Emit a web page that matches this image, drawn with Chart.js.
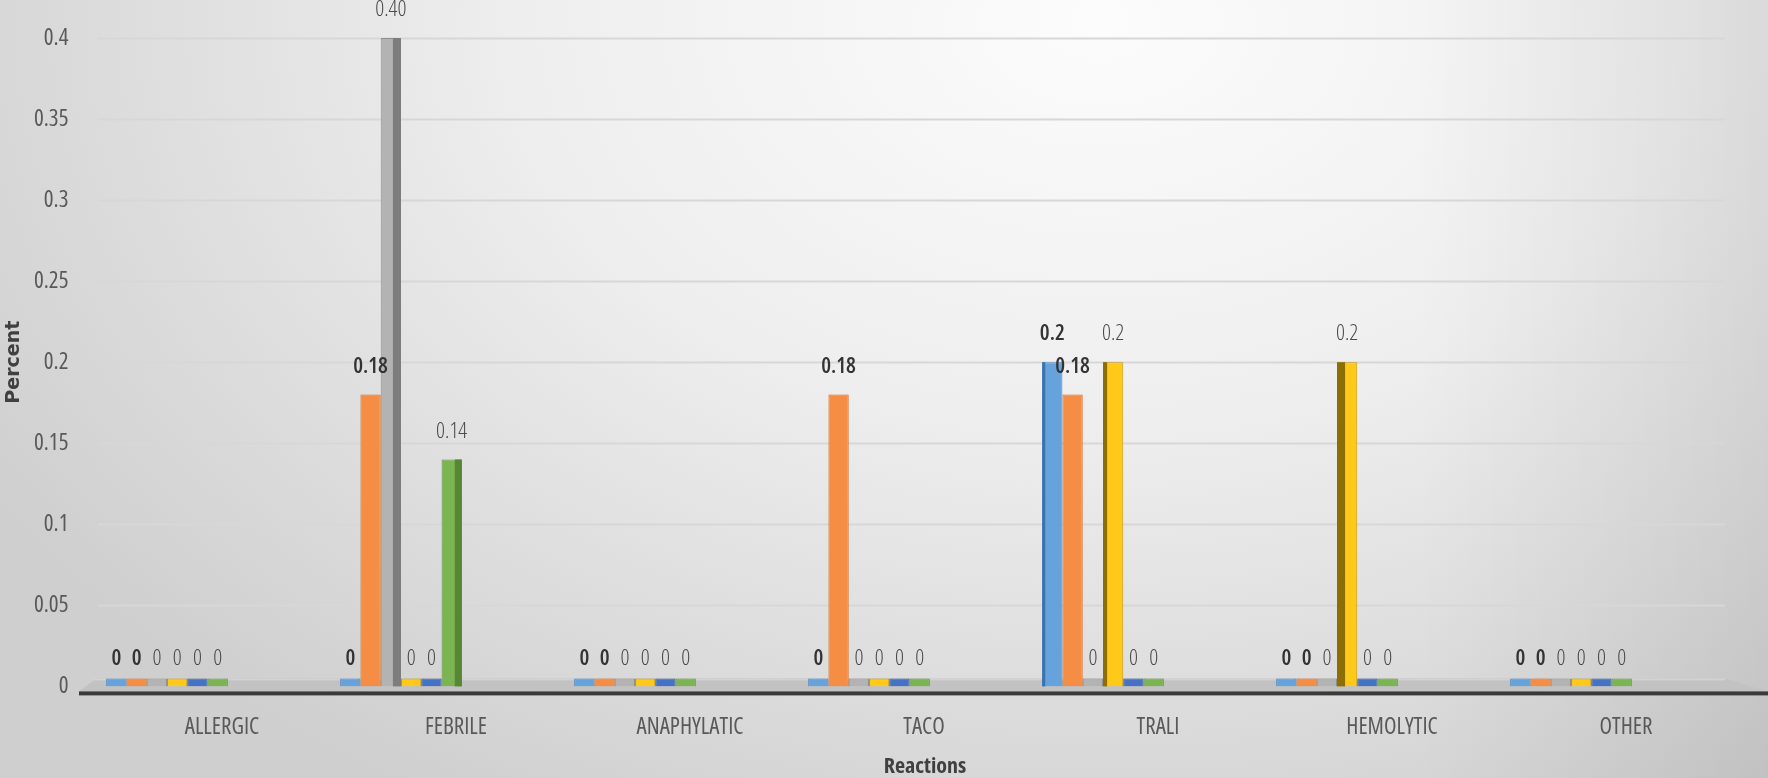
<!DOCTYPE html>
<html>
<head>
<meta charset="utf-8">
<title>Reactions</title>
<script src="https://cdn.jsdelivr.net/npm/chart.js@4"></script>
<style>
  html, body { margin: 0; padding: 0; }
  body {
    width: 1768px;
    height: 778px;
    overflow: hidden;
    background:
      linear-gradient(to right, rgba(0,0,0,0) 80%, rgba(0,0,0,0.07) 100%),
      radial-gradient(ellipse 1300px 900px at 1100px 20px, #fcfcfc 0%, #eeeeee 45%, #dadada 80%, #cfcfcf 100%);
  }
  #wrap { position: relative; width: 1768px; height: 778px; }
</style>
</head>
<body>
<div id="wrap"><canvas id="reactionsChart"></canvas></div>
<script>
// --- data ---
const categories = ['ALLERGIC', 'FEBRILE', 'ANAPHYLATIC', 'TACO', 'TRALI', 'HEMOLYTIC', 'OTHER'];
const series1 = [0, 0,    0, 0,    0.2,  0,   0];
const series2 = [0, 0.18, 0, 0.18, 0.18, 0,   0];
const series3 = [0, 0.40, 0, 0,    0,    0,   0];
const series4 = [0, 0,    0, 0,    0.2,  0.2, 0];
const series5 = [0, 0,    0, 0,    0,    0,   0];
const series6 = [0, 0.14, 0, 0,    0,    0,   0];
const yTicks = [0, 0.05, 0.1, 0.15, 0.2, 0.25, 0.3, 0.35, 0.4];

// --- styles ---
const SANS = "'Open Sans', sans-serif";
const fronts  = ['#66a3dd', '#f58d45', '#b3b3b3', '#ffc91a', '#4472c4', '#7ab551'];
const sides   = ['#3b73ad', '#c25e1c', '#7d7d7d', '#8c6e05', '#2f5597', '#568636'];
const borders = ['#4a86c5', '#d8671e', '#8f8f8f', '#c79600', '#2f5597', '#5f9440'];
const boldLabels = [true, true, false, false, false, false];
const decimals = [null, null, 2, null, null, null];

const seriesData = [series1, series2, series3, series4, series5, series6];

// floor strip and light grid lines behind the columns
const backdrop = {
  id: 'backdrop',
  beforeDatasetsDraw(chart) {
    const { ctx, chartArea: ca } = chart;
    const yScale = chart.scales.y;
    const y0 = yScale.getPixelForValue(0);
    ctx.save();
    ctx.strokeStyle = '#d7d7d7';
    ctx.lineWidth = 2;
    yTicks.forEach(v => {
      if (v === 0) return;
      const py = Math.round(yScale.getPixelForValue(v)) + 0.5;
      ctx.beginPath();
      ctx.moveTo(ca.left + 48, py);
      ctx.lineTo(ca.right + 37, py);
      ctx.stroke();
    });
    // floor
    ctx.fillStyle = '#c2c2c2';
    ctx.beginPath();
    ctx.moveTo(ca.left + 46, y0 - 8);
    ctx.lineTo(ca.right + 37, y0 - 8);
    ctx.lineTo(chart.width, y0 + 5);
    ctx.lineTo(ca.left + 29, y0 + 5);
    ctx.closePath();
    ctx.fill();
    ctx.fillStyle = '#d3d3d3';
    ctx.fillRect(ca.left + 44, y0 - 8, ca.right - ca.left - 7, 2);
    ctx.fillStyle = '#3a3a3a';
    ctx.fillRect(ca.left + 29, y0 + 5, chart.width - ca.left - 29, 4);
    ctx.restore();
  }
};

// darker side face on the tall columns
const sideFaces = {
  id: 'sideFaces',
  afterDatasetDraw(chart, args) {
    const { ctx, chartArea: ca } = chart;
    const i = args.index;
    const cx = (ca.left + ca.right) / 2;
    ctx.save();
    args.meta.data.forEach((el, j) => {
      const v = seriesData[i][j];
      if (v <= 0) return;
      const { x, y, base, width } = el.getProps(['x', 'y', 'base', 'width'], true);
      const dist = x - cx;
      const frac = Math.min(0.4, Math.abs(dist) / 1200);
      if (frac < 0.05) return;
      const toRight = dist < 0;
      const neighbour = seriesData[i + (toRight ? 1 : -1)];
      if (neighbour && neighbour[j] > 0) return;
      const sw = width * frac;
      ctx.fillStyle = sides[i];
      const sx = toRight ? x + width / 2 - sw : x - width / 2;
      ctx.fillRect(sx, y, sw, base - y);
    });
    ctx.restore();
  }
};

// value labels above each column
const valueLabels = {
  id: 'valueLabels',
  afterDatasetsDraw(chart) {
    const { ctx } = chart;
    const yScale = chart.scales.y;
    ctx.save();
    ctx.textAlign = 'center';
    ctx.textBaseline = 'middle';
    chart.data.datasets.forEach((ds, i) => {
      const meta = chart.getDatasetMeta(i);
      meta.data.forEach((el, j) => {
        const v = ds.data[j];
        const txt = (v !== 0 && decimals[i]) ? v.toFixed(decimals[i]) : String(v);
        ctx.font = (boldLabels[i] ? '600' : '300') + ' condensed 22px ' + SANS;
        ctx.fillStyle = boldLabels[i] ? '#333333' : '#4a4a4a';
        ctx.fillText(txt, el.x, yScale.getPixelForValue(v) - 28);
      });
    });
    ctx.restore();
  }
};

// category axis title
const axisTitle = {
  id: 'axisTitle',
  afterDraw(chart) {
    const { ctx, chartArea: ca } = chart;
    ctx.save();
    ctx.font = 'bold condensed 22px ' + SANS;
    ctx.fillStyle = '#404040';
    ctx.textAlign = 'center';
    ctx.textBaseline = 'middle';
    ctx.fillText('Reactions', (ca.left + ca.right) / 2 + 56, 767);
    ctx.restore();
  }
};

const datasets = seriesData.map((data, i) => ({
  label: 'Series' + (i + 1),
  data: data,
  backgroundColor: fronts[i],
  borderColor: borders[i],
  borderWidth: 1,
  minBarLength: 8,
  barPercentage: 1.0,
  categoryPercentage: 0.52
}));

new Chart(document.getElementById('reactionsChart'), {
  type: 'bar',
  data: { labels: categories, datasets: datasets },
  options: {
    responsive: true,
    maintainAspectRatio: false,
    animation: false,
    layout: { padding: { top: 38, right: 80, bottom: 10, left: 0 } },
    plugins: {
      legend: { display: false },
      tooltip: { enabled: false }
    },
    scales: {
      x: {
        grid: { display: false, drawTicks: false },
        border: { display: false },
        ticks: {
          padding: 27,
          labelOffset: 55,
          maxRotation: 0,
          autoSkip: false,
          color: '#595959',
          font: { family: SANS, size: 23, weight: '400 condensed' }
        }
      },
      y: {
        min: 0,
        max: 0.4,
        grid: { display: false, drawTicks: false },
        border: { display: false },
        afterBuildTicks: scale => { scale.ticks = yTicks.map(v => ({ value: v })); },
        afterFit: scale => { scale.width = 50; },
        ticks: {
          mirror: true,
          crossAlign: 'far',
          padding: -16,
          color: '#595959',
          font: { family: SANS, size: 23, weight: '400 condensed' },
          callback: v => String(+v.toFixed(2))
        },
        title: {
          display: true,
          text: 'Percent',
          color: '#404040',
          padding: { top: 3, bottom: 0 },
          font: { family: "'DejaVu Sans', sans-serif", size: 19, weight: 'bold' }
        }
      }
    }
  },
  plugins: [backdrop, sideFaces, valueLabels, axisTitle]
});
</script>
</body>
</html>
